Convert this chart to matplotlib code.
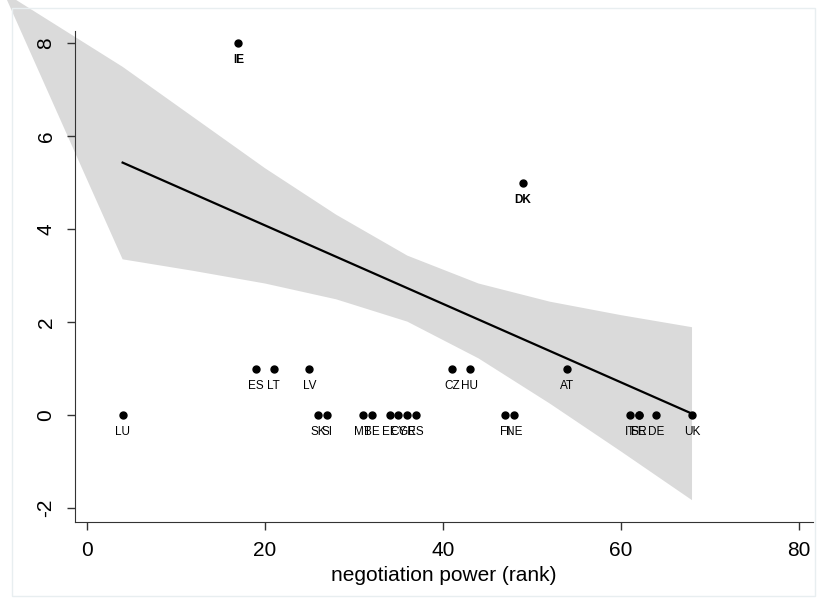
import numpy as np
import matplotlib.pyplot as plt
from matplotlib.patches import Polygon, Rectangle

plt.rcParams['font.family'] = ['Liberation Sans', 'DejaVu Sans']

# country scores
countries = ['LU', 'IE', 'ES', 'LT', 'LV', 'SK', 'SI', 'MT', 'BE', 'EE', 'CY', 'GR', 'ES',
             'CZ', 'HU', 'FI', 'NE', 'DK', 'AT', 'IT', 'FR', 'SE', 'DE', 'UK']
rank = [4, 17, 19, 21, 25, 26, 27, 31, 32, 34, 35, 36, 37,
        41, 43, 47, 48, 49, 54, 61, 62, 62, 64, 68]
score = [0, 8, 1, 1, 1, 0, 0, 0, 0, 0, 0, 0, 0,
         1, 1, 0, 0, 5, 1, 0, 0, 0, 0, 0]
bold = ['IE', 'DK']

# fitted line and 95% band
fit_x = [4, 68]
fit_y = [5.43, 0.03]
band_x = [4, 12, 20, 28, 36, 44, 52, 60, 68]
band_hi = [7.49, 6.40, 5.31, 4.31, 3.43, 2.83, 2.44, 2.15, 1.89]
band_lo = [3.35, 3.10, 2.83, 2.49, 2.01, 1.22, 0.25, -0.78, -1.83]
apex = (-9.4, 9.1)

fig = plt.figure(figsize=(8.19, 6.01), dpi=100)
fig.patches.append(Rectangle((0.015, 0.008), 0.98, 0.978, transform=fig.transFigure,
                             fill=False, edgecolor='#e8eef0', linewidth=1))
ax = fig.add_axes([0.0916, 0.1314, 0.9011, 0.817])

pts = list(zip(band_x, band_hi))[::-1] + [apex] + list(zip(band_x, band_lo))
band = Polygon(pts, closed=True, facecolor='#dadada', edgecolor='none', clip_on=False, zorder=1)
ax.add_patch(band)
ax.plot(fit_x, fit_y, color='black', linewidth=1.6, zorder=2)

ax.plot(rank, score, 'o', color='black', markersize=5, zorder=3)
for c, x, y in zip(countries, rank, score):
    ax.annotate(c, (x, y), xytext=(0, -12.5), textcoords='offset points',
                ha='center', va='center', fontsize=8.5,
                fontweight='bold' if c in bold else 'normal', zorder=4)

ax.set_xlim(-1.35, 81.6)
ax.set_ylim(-2.3, 8.26)
ax.set_xticks([0, 20, 40, 60, 80])
ax.set_yticks([-2, 0, 2, 4, 6, 8])
ax.set_yticklabels(['-2', '0', '2', '4', '6', '8'], rotation=90, va='center')
ax.tick_params(labelsize=15, length=6, width=1, color='#333333', pad=8)
ax.set_xlabel('negotiation power (rank)', fontsize=15, labelpad=4)
for s in ['top', 'right']:
    ax.spines[s].set_visible(False)
for s in ['left', 'bottom']:
    ax.spines[s].set_color('#333333')
ax.set_facecolor('none')

fig.savefig('out.png', dpi=100)
